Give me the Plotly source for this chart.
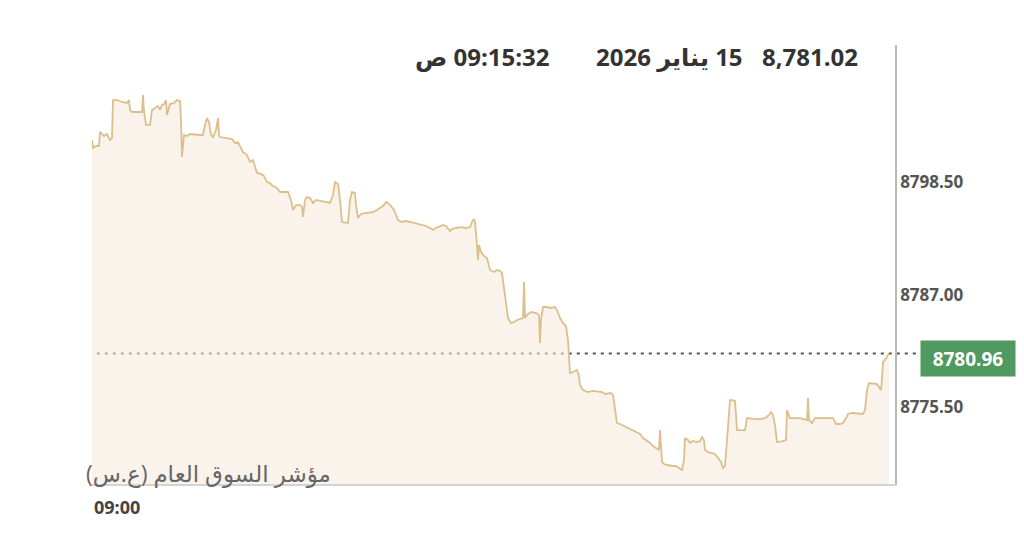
import plotly.graph_objects as go

# elapsed seconds since the session start label, and index level
elapsed_s = [
    0, 1, 4, 7, 8, 12, 15, 18, 20, 21,
    25, 30, 35, 37, 38, 40, 50, 51, 52, 54,
    58, 60, 63, 66, 68, 70, 72, 74, 75, 77,
    78, 82, 85, 88, 89, 90, 91, 92, 95, 98,
    108, 111, 113, 115, 117, 119, 121, 124, 126, 127,
    128, 136, 140, 143, 146, 149, 151, 155, 158, 161,
    163, 165, 169, 172, 175, 178, 181, 185, 188, 196,
    199, 201, 204, 208, 210, 211, 213, 215, 218, 221,
    224, 228, 233, 238, 241, 243, 246, 248, 250, 256,
    258, 260, 263, 264, 266, 269, 273, 281, 285, 288,
    291, 294, 296, 299, 302, 304, 306, 310, 314, 318,
    322, 326, 330, 334, 338, 341, 344, 348, 351, 354,
    356, 358, 360, 363, 370, 374, 378, 380, 382, 383,
    385, 386, 387, 389, 392, 395, 398, 402, 405, 408,
    410, 412, 414, 416, 419, 422, 425, 431, 432, 433,
    436, 440, 444, 447, 448, 449, 451, 455, 459, 463,
    465, 468, 471, 474, 476, 477, 478, 481, 485, 487,
    488, 491, 496, 501, 510, 513, 519, 521, 523, 525,
    528, 532, 536, 540, 544, 548, 551, 554, 558, 561,
    564, 567, 568, 569, 570, 572, 575, 581, 584, 587,
    590, 592, 593, 596, 598, 601, 605, 608, 610, 612,
    613, 616, 620, 623, 626, 629, 631, 633, 635, 637,
    638, 640, 643, 644, 645, 653, 655, 663, 668, 673,
    677, 679, 681, 683, 685, 691, 694, 695, 698, 708,
    713, 715, 716, 717, 720, 723, 741, 744, 748, 751,
    754, 756, 760, 771, 773, 775, 777, 785, 787, 789,
    790, 791, 793, 797,
]

index_values = [
    8802.87, 8802.04, 8802.25, 8802.25, 8803.69, 8803.28, 8803.48, 8802.87, 8803.07, 8806.97,
    8806.97, 8806.77, 8806.66, 8806.97, 8805.95, 8805.74, 8805.74, 8807.49, 8805.74, 8804.41,
    8804.41, 8805.95, 8806.15, 8806.36, 8805.95, 8806.46, 8806.56, 8806.97, 8805.43, 8806.15,
    8806.56, 8806.66, 8806.97, 8806.87, 8804.92, 8801.12, 8802.87, 8803.38, 8803.28, 8803.48,
    8803.38, 8803.38, 8804.41, 8805.12, 8804.71, 8803.38, 8803.17, 8803.89, 8805.12, 8803.38,
    8803.17, 8803.07, 8802.97, 8802.56, 8802.66, 8802.04, 8801.63, 8801.33, 8800.61, 8800.81,
    8800.20, 8799.48, 8799.38, 8799.17, 8798.55, 8798.45, 8798.14, 8797.94, 8797.53, 8797.53,
    8796.71, 8795.68, 8796.19, 8796.19, 8795.99, 8794.96, 8796.71, 8797.01, 8796.91, 8796.40,
    8796.71, 8796.60, 8796.50, 8796.40, 8797.22, 8798.55, 8798.35, 8796.71, 8794.45, 8794.34,
    8796.71, 8797.53, 8797.42, 8796.19, 8794.86, 8795.27, 8795.37, 8795.47, 8795.68, 8795.88,
    8796.09, 8796.50, 8796.40, 8796.09, 8795.68, 8795.17, 8794.65, 8794.45, 8794.55, 8794.45,
    8794.34, 8794.24, 8794.14, 8794.04, 8793.83, 8793.63, 8793.83, 8794.04, 8794.14, 8794.04,
    8793.83, 8793.52, 8793.73, 8793.83, 8793.93, 8793.83, 8793.93, 8794.45, 8794.76, 8794.45,
    8792.09, 8790.55, 8792.09, 8791.37, 8790.96, 8790.75, 8789.52, 8789.31, 8789.52, 8789.42,
    8789.21, 8787.47, 8785.93, 8784.59, 8784.08, 8784.18, 8784.39, 8784.59, 8788.29, 8784.59,
    8785.00, 8785.21, 8785.10, 8784.90, 8782.02, 8784.39, 8785.72, 8785.72, 8785.62, 8785.72,
    8785.41, 8784.59, 8784.08, 8783.77, 8782.33, 8779.77, 8778.94, 8779.05, 8779.25, 8778.64,
    8777.71, 8777.20, 8776.99, 8777.10, 8776.99, 8776.79, 8776.89, 8776.69, 8775.15, 8773.81,
    8773.71, 8773.50, 8773.30, 8773.09, 8772.89, 8772.68, 8772.27, 8772.07, 8771.76, 8771.45,
    8771.24, 8771.04, 8773.09, 8771.04, 8769.81, 8769.60, 8769.50, 8769.40, 8769.40, 8769.19,
    8768.99, 8770.01, 8772.27, 8772.07, 8771.76, 8771.96, 8771.86, 8771.96, 8772.37, 8772.07,
    8771.04, 8770.83, 8770.73, 8770.63, 8770.22, 8769.81, 8769.19, 8769.40, 8772.07, 8775.15,
    8776.17, 8776.17, 8776.07, 8774.63, 8773.09, 8773.09, 8774.32, 8774.22, 8774.22, 8774.32,
    8774.63, 8774.94, 8774.63, 8773.61, 8771.86, 8771.96, 8772.07, 8775.15, 8774.32, 8774.32,
    8774.22, 8774.12, 8776.38, 8774.12, 8773.81, 8774.32, 8774.32, 8773.71, 8773.71, 8773.81,
    8774.32, 8774.74, 8774.84, 8774.74, 8775.15, 8777.20, 8777.92, 8777.81, 8777.51, 8777.20,
    8778.43, 8780.07, 8780.28, 8780.96,
]

last_price = 8780.96
y_ticks = [8775.50, 8787.00, 8798.50]
header_price = "8,781.02"
header_date = "15 يناير 2026"
header_time = "09:15:32 ص"
index_name = "مؤشر السوق العام (ع.س)"
start_label = "09:00"

RLE, PDF = "\u202B", "\u202C"

fig = go.Figure()
fig.add_trace(go.Scatter(
    x=elapsed_s, y=index_values, mode="lines",
    line=dict(color="#ddbf8c", width=1.8),
    fill="tozeroy", fillcolor="rgba(245,235,222,0.6)",
    hoverinfo="skip", showlegend=False,
))

fig.add_shape(type="line", xref="paper", yref="y",
              x0=0.006, x1=1.031, y0=last_price, y1=last_price,
              line=dict(color="#555555", width=2, dash="3px,5px"), layer="below")

font_ui = "Open Sans, DejaVu Sans, sans-serif"

fig.add_annotation(text=f"<b>{last_price:.2f}</b>", xref="paper", yref="y",
                   x=1.0909, y=last_price, xanchor="center", yanchor="middle",
                   yshift=-5, showarrow=False,
                   font=dict(color="white", size=19, family=font_ui),
                   bgcolor="#519a5f", width=90, height=31, borderpad=2)

hdr_font = dict(color="#333333", size=24, family=font_ui, weight="bold")
fig.add_annotation(text=header_price, xref="paper", yref="paper",
                   x=0.9564, y=0.9727, xanchor="right", yanchor="middle",
                   showarrow=False, font=hdr_font)
fig.add_annotation(text=f"{RLE}{header_date}{PDF}", xref="paper", yref="paper",
                   x=0.8132, y=0.9727, xanchor="right", yanchor="middle",
                   showarrow=False, font=hdr_font)
fig.add_annotation(text=f"{RLE}{header_time}{PDF}", xref="paper", yref="paper",
                   x=0.5729, y=0.9727, xanchor="right", yanchor="middle",
                   showarrow=False, font=hdr_font)

fig.add_annotation(text=f"{RLE}{index_name}{PDF}", xref="paper", yref="paper",
                   x=0.3001, y=0.0251, xanchor="right", yanchor="middle",
                   showarrow=False, font=dict(color="#666666", size=23, family=font_ui))
fig.add_annotation(text=start_label, xref="paper", yref="paper",
                   x=0.0, y=-0.0524, xanchor="left", yanchor="middle",
                   showarrow=False, font=dict(color="#444444", size=18, family=font_ui, weight="bold"))

fig.update_layout(
    width=1024, height=546,
    margin=dict(l=92, r=129, t=45, b=62),
    paper_bgcolor="white", plot_bgcolor="white",
    xaxis=dict(range=[0, 803], showgrid=False, zeroline=False, showticklabels=False,
               showline=True, linecolor="#d4d4d4", linewidth=1.5, fixedrange=True),
    yaxis=dict(range=[8767.55, 8812.62], side="right", tickvals=y_ticks, tickformat=".2f",
               showgrid=False, zeroline=False, ticks="", showline=True,
               linecolor="#b8b8b8", linewidth=1.5,
               tickfont=dict(color="#555555", size=17, family=font_ui, weight="bold"),
               fixedrange=True),
)

fig.write_html("out.html", config={"displayModeBar": False},
               post_script="document.body.style.margin='0';")
